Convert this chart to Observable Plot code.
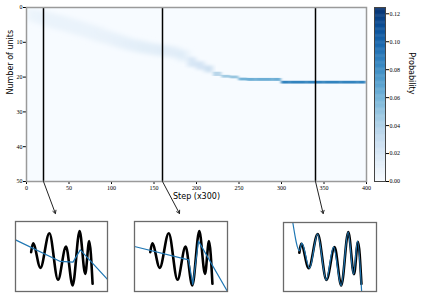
<!DOCTYPE html>
<html><head><meta charset="utf-8">
<script src="https://cdn.jsdelivr.net/npm/d3@7"></script>
<script src="https://cdn.jsdelivr.net/npm/@observablehq/plot@0.6"></script>
<style>
body{margin:0;background:#fff;}
#fig{position:relative;width:421px;height:298px;overflow:hidden;background:#fff;}
#fig > *{position:absolute;}
</style></head><body><div id="fig"></div>
<script>
// ---- heatmap band (step bins of 10) ----
const bandStep = [0,10,20,30,40,50,60,70,80,90,100,110,120,130,140,150,160,170,180,190,200,210,220,230,240,250,260,270,280,290,300,310,320,330,340,350,360,370,380,390];
const bandCenter = [2.2,2.8,3.5,4.2,4.8,5.5,6.2,7.0,7.8,8.6,9.4,10.2,10.9,11.4,11.9,12.3,12.6,13.0,14.0,15.8,16.8,17.8,19.2,19.9,20.1,20.7,20.8,20.8,20.8,20.8,21.6,21.6,21.6,21.6,21.6,21.6,21.6,21.6,21.6,21.6];
const bandHalfWidth = [1.8,2.0,2.2,2.2,2.2,2.2,2.2,2.2,2.2,2.0,2.0,1.9,1.8,1.8,1.7,1.7,1.6,1.6,1.6,1.4,1.2,1.0,0.6,0.4,0.4,0.4,0.42,0.42,0.42,0.42,0.4,0.4,0.4,0.4,0.4,0.4,0.4,0.4,0.4,0.4];
const bandProb = [0.007,0.008,0.008,0.008,0.008,0.008,0.008,0.008,0.009,0.009,0.010,0.011,0.012,0.013,0.013,0.014,0.014,0.014,0.016,0.020,0.022,0.026,0.036,0.045,0.048,0.060,0.062,0.062,0.062,0.062,0.085,0.085,0.085,0.085,0.085,0.085,0.085,0.085,0.085,0.085];
const binWidth = 10;

const markerSteps = [20, 160, 340];
const arrowTargetStep = [34, 180, 349];
const arrowTargetUnits = 59.2;

const xTicks = [0,50,100,150,200,250,300,350,400];
const yTicks = [0,10,20,30,40,50];
const cbarTicks = [0,0.02,0.04,0.06,0.08,0.10,0.12];
const probMax = 0.1245;

// ---- inset data (unit coordinates inside each panel) ----
const waveU = [0.170,0.191,0.271,0.368,0.462,0.549,0.621,0.697,0.758,0.801,0.838];
const waveV = [0.562,0.690,0.338,0.833,0.167,0.643,0.086,0.862,0.252,0.719,0.110];
const fit1U = [0,0.487,0.625,0.704,1];
const fit1V = [0.738,0.429,0.419,0.595,0.171];
const fit2U = [0,0.581,0.627,0.688,1];
const fit2V = [0.643,0.452,0.100,0.719,0.0];
const fit3U = [0.100,0.172,0.197,0.280,0.366,0.459,0.538,0.620,0.695,0.753,0.796,0.840];
const fit3V = [1.0,0.590,0.700,0.338,0.833,0.167,0.643,0.086,0.862,0.252,0.730,0.0];

const fig = document.getElementById("fig");
const color = {type:"linear", scheme:"blues", domain:[0, probMax]};
const idx = d3.range(bandStep.length);
const softIdx = idx.filter(i => bandStep[i] < 190);
const midIdx = idx.filter(i => bandStep[i] >= 190 && bandStep[i] < 220);
const sharpIdx = idx.filter(i => bandStep[i] >= 220);
const bandRect = (data, label) => Plot.rect(data, {
  x1: i => bandStep[i], x2: i => bandStep[i] + binWidth,
  y1: i => bandCenter[i] - bandHalfWidth[i], y2: i => bandCenter[i] + bandHalfWidth[i],
  fill: i => bandProb[i], ariaDescription: label
});

const main = Plot.plot({
  width: 421, height: 298,
  marginLeft: 26, marginRight: 55, marginTop: 7, marginBottom: 117,
  style: {fontFamily: "'Liberation Serif', serif", fontSize: "6px", background: "transparent", overflow: "visible"},
  x: {domain: [0, 400], ticks: xTicks, tickSize: 3, tickPadding: 1, label: null},
  y: {domain: [0, 50], reverse: true, ticks: yTicks, tickSize: 3, tickPadding: 1, label: null},
  color,
  marks: [
    Plot.frame({fill: "#f7fbff"}),
    bandRect(softIdx, "band-soft"),
    bandRect(midIdx, "band-mid"),
    bandRect(sharpIdx, "band-sharp"),
    Plot.ruleX(markerSteps, {stroke: "black", strokeWidth: 1.5}),
    Plot.frame({stroke: "#9a9a9a", strokeWidth: 1.5}),
    Plot.arrow(d3.range(markerSteps.length), {
      x1: i => markerSteps[i], y1: () => 50,
      x2: i => arrowTargetStep[i], y2: () => arrowTargetUnits,
      stroke: "#222", strokeWidth: 1, headLength: 5
    }),
    Plot.text(["Step (x300)"], {text: d => d, frameAnchor: "bottom", dy: 17, fontFamily: "DejaVu Sans", fontSize: 8}),
    Plot.text(["Number of units"], {text: d => d, frameAnchor: "left", dx: -16, rotate: -90, fontFamily: "DejaVu Sans", fontSize: 8})
  ]
});
main.style.left = "0px"; main.style.top = "0px";
fig.appendChild(main);

// soften the band with SVG blur filters, clipped to the frame
const NS = "http://www.w3.org/2000/svg";
const defs = document.createElementNS(NS, "defs");
function addBlur(id, sx, sy) {
  const f = document.createElementNS(NS, "filter");
  f.setAttribute("id", id);
  f.setAttribute("x", "-10%"); f.setAttribute("y", "-50%");
  f.setAttribute("width", "120%"); f.setAttribute("height", "200%");
  const g = document.createElementNS(NS, "feGaussianBlur");
  g.setAttribute("stdDeviation", sx + " " + sy);
  f.appendChild(g); defs.appendChild(f);
}
addBlur("blurSoft", 4, 2.2);
addBlur("blurMid", 2.5, 1.4);
addBlur("blurSharp", 1.4, 0.6);
const clip = document.createElementNS(NS, "clipPath");
clip.setAttribute("id", "frameClip");
const cr = document.createElementNS(NS, "rect");
cr.setAttribute("x", 26); cr.setAttribute("y", 7); cr.setAttribute("width", 340); cr.setAttribute("height", 174);
clip.appendChild(cr); defs.appendChild(clip);
main.insertBefore(defs, main.firstChild);
function wrap(desc, filterId) {
  const g = main.querySelector('g[aria-description="' + desc + '"]');
  if (!g) return;
  const outer = document.createElementNS(NS, "g");
  outer.setAttribute("clip-path", "url(#frameClip)");
  g.parentNode.insertBefore(outer, g);
  outer.appendChild(g);
  g.setAttribute("filter", "url(#" + filterId + ")");
}
wrap("band-soft", "blurSoft");
wrap("band-mid", "blurMid");
wrap("band-sharp", "blurSharp");

// ---- colorbar ----
const cstep = probMax / 200;
const cbar = Plot.plot({
  width: 47, height: 298,
  marginLeft: 0, marginRight: 36, marginTop: 7, marginBottom: 117,
  style: {fontFamily: "'Liberation Serif', serif", fontSize: "6px", background: "transparent", overflow: "visible"},
  x: {domain: [0, 1], axis: null},
  y: {domain: [0, probMax], ticks: cbarTicks, tickFormat: d3.format(".2f"), tickSize: 3, tickPadding: 1, label: null, axis: "right"},
  color,
  marks: [
    Plot.rect(d3.range(0, probMax, cstep), {x1: 0, x2: 1, y1: d => d, y2: d => Math.min(probMax, d + cstep * 1.5), fill: d => d}),
    Plot.frame({stroke: "#444", strokeWidth: 1}),
    Plot.text(["Probability"], {text: d => d, frameAnchor: "right", dx: 26, rotate: 90, fontFamily: "DejaVu Sans", fontSize: 8})
  ]
});
cbar.style.left = "374px"; cbar.style.top = "0px";
fig.appendChild(cbar);

// ---- insets ----
function inset(fu, fv, left, top, w, h, blueOnTop) {
  const wave = Plot.line(d3.range(waveU.length), {x: i => waveU[i], y: i => waveV[i], curve: "monotone-x", stroke: "black", strokeWidth: 2.6, strokeLinecap: "round", clip: true});
  const fit = Plot.line(d3.range(fu.length), {x: i => fu[i], y: i => fv[i], curve: blueOnTop ? "monotone-x" : "linear", stroke: "#1f77b4", strokeWidth: 1.2, clip: true});
  const p = Plot.plot({
    width: w, height: h, margin: 1,
    style: {background: "transparent", overflow: "visible"},
    x: {domain: [0, 1], axis: null},
    y: {domain: [0, 1], axis: null},
    marks: [Plot.frame({fill: "white"}), wave, fit, Plot.frame({stroke: "#6a6a6a", strokeWidth: 1.3})]
  });
  p.style.left = left + "px"; p.style.top = top + "px";
  fig.appendChild(p);
}
inset(fit1U, fit1V, 14, 220, 94, 72, false);
inset(fit2U, fit2V, 133, 220, 95, 72, false);
inset(fit3U, fit3V, 282, 221, 95, 71, true);
</script></body></html>
